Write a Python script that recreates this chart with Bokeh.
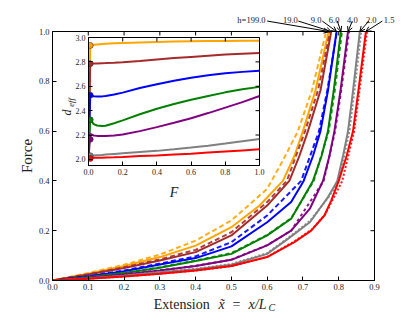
import math
from bokeh.plotting import figure
from bokeh.models import (Label, Arrow, OpenHead, FixedTicker, PrintfTickFormatter,
                          Range1d, GlobalInlineStyleSheet)
from bokeh.embed import file_html
from bokeh.resources import INLINE

SERIF = "Liberation Serif"
INK = "#222222"

# ---------------- data: main panel (extension vs force) ----------------
h_labels = ["h=199.0", "19.0", "9.0", "6.0", "4.0", "2.0", "1.5"]
colors = ["orange", "brown", "blue", "green", "purple", "gray", "red"]

# solid curves (x = extension, f = force)
x_h199 = [0, 0.1, 0.2, 0.3, 0.4, 0.5, 0.578, 0.644, 0.676, 0.700, 0.735, 0.772]
f_h199 = [0, 0.027, 0.058, 0.094, 0.14, 0.214, 0.30, 0.40, 0.50, 0.60, 0.763, 1.0]
x_h19 = [0, 0.1, 0.2, 0.3, 0.4, 0.5, 0.6, 0.662, 0.690, 0.714, 0.749, 0.779]
f_h19 = [0, 0.024, 0.05, 0.08, 0.114, 0.181, 0.301, 0.40, 0.50, 0.60, 0.763, 1.0]
x_h9 = [0, 0.1, 0.2, 0.3, 0.4, 0.5, 0.6, 0.667, 0.702, 0.728, 0.749, 0.770, 0.794]
f_h9 = [0, 0.016, 0.037, 0.064, 0.09, 0.137, 0.234, 0.315, 0.40, 0.50, 0.60, 0.763, 1.0]
x_h6 = [0, 0.1, 0.2, 0.3, 0.4, 0.5, 0.6, 0.667, 0.728, 0.752, 0.770, 0.786, 0.806]
f_h6 = [0, 0.013, 0.03, 0.051, 0.078, 0.107, 0.181, 0.248, 0.40, 0.50, 0.60, 0.763, 1.0]
x_h4 = [0, 0.1, 0.2, 0.3, 0.4, 0.5, 0.6, 0.667, 0.72, 0.756, 0.774, 0.788, 0.805, 0.826]
f_h4 = [0, 0.01, 0.024, 0.04, 0.058, 0.083, 0.141, 0.2, 0.29, 0.40, 0.50, 0.60, 0.763, 1.0]
x_h2 = [0, 0.1, 0.2, 0.3, 0.4, 0.5, 0.6, 0.658, 0.72, 0.77, 0.796, 0.812, 0.826, 0.840, 0.859]
f_h2 = [0, 0.008, 0.019, 0.033, 0.045, 0.063, 0.107, 0.167, 0.235, 0.335, 0.40, 0.50, 0.60, 0.763, 1.0]
x_h15 = [0, 0.1, 0.2, 0.3, 0.4, 0.5, 0.6, 0.676, 0.723, 0.76, 0.779, 0.80, 0.822, 0.84, 0.855, 0.876]
f_h15 = [0, 0.007, 0.016, 0.027, 0.04, 0.058, 0.094, 0.154, 0.2, 0.261, 0.321, 0.40, 0.50, 0.60, 0.763, 1.0]

# dashed (comparison) curves
xd_h199 = [0, 0.1, 0.2, 0.3, 0.4, 0.5, 0.6, 0.644, 0.686, 0.725, 0.765]
fd_h199 = [0, 0.03, 0.063, 0.104, 0.16, 0.241, 0.368, 0.482, 0.60, 0.763, 1.0]
xd_h19 = [0, 0.1, 0.2, 0.3, 0.4, 0.5, 0.6, 0.655, 0.706, 0.742, 0.776]
fd_h19 = [0, 0.025, 0.053, 0.085, 0.123, 0.194, 0.315, 0.40, 0.60, 0.763, 1.0]
xd_h9 = [0, 0.1, 0.2, 0.3, 0.4, 0.5, 0.6, 0.695, 0.745, 0.768, 0.795]
fd_h9 = [0, 0.017, 0.04, 0.068, 0.097, 0.154, 0.261, 0.40, 0.60, 0.763, 1.0]
xd_h6 = [0, 0.1, 0.2, 0.3, 0.4, 0.5, 0.6, 0.667, 0.73, 0.772, 0.789, 0.809]
fd_h6 = [0, 0.013, 0.031, 0.053, 0.08, 0.11, 0.183, 0.25, 0.40, 0.60, 0.763, 1.0]
xd_h4 = [0, 0.1, 0.2, 0.3, 0.4, 0.5, 0.6, 0.667, 0.758, 0.79, 0.807, 0.829]
fd_h4 = [0, 0.01, 0.024, 0.041, 0.059, 0.084, 0.142, 0.2, 0.40, 0.60, 0.763, 1.0]
xd_h2 = [0, 0.1, 0.2, 0.3, 0.4, 0.5, 0.6, 0.658, 0.72, 0.772, 0.80, 0.83, 0.844, 0.863]
fd_h2 = [0, 0.008, 0.02, 0.034, 0.047, 0.066, 0.11, 0.17, 0.24, 0.335, 0.40, 0.60, 0.763, 1.0]
xd_h15 = [0, 0.1, 0.2, 0.3, 0.4, 0.5, 0.6, 0.676, 0.725, 0.762, 0.81, 0.843, 0.858, 0.879]
fd_h15 = [0, 0.007, 0.016, 0.027, 0.04, 0.058, 0.095, 0.157, 0.205, 0.265, 0.40, 0.60, 0.763, 1.0]

solid_x = [x_h199, x_h19, x_h9, x_h6, x_h4, x_h2, x_h15]
solid_f = [f_h199, f_h19, f_h9, f_h6, f_h4, f_h2, f_h15]
dash_x = [xd_h199, xd_h19, xd_h9, xd_h6, xd_h4, xd_h2, xd_h15]
dash_f = [fd_h199, fd_h19, fd_h9, fd_h6, fd_h4, fd_h2, fd_h15]
dash_styles = ["5 3", "5 3", "5 3", "4 3", "3 3", "2 2", "2 2"]

main_xticks = [0.0, 0.1, 0.2, 0.3, 0.4, 0.5, 0.6, 0.7, 0.8, 0.9]
main_yticks = [0.0, 0.2, 0.4, 0.6, 0.8, 1.0]

# ---------------- data: inset (d_eff vs F) ----------------
inset_F = [0.0, 0.01, 0.03, 0.05, 0.08, 0.1, 0.15, 0.2, 0.3, 0.4, 0.5, 0.6, 0.7, 0.8, 0.9, 1.0]
d_h199 = [2.0, 2.935, 2.94, 2.943, 2.946, 2.948, 2.952, 2.955, 2.96, 2.964, 2.967, 2.969, 2.971, 2.972, 2.973, 2.974]
d_h19 = [2.0, 2.785, 2.786, 2.787, 2.789, 2.79, 2.793, 2.797, 2.808, 2.82, 2.831, 2.841, 2.851, 2.86, 2.866, 2.872]
d_h9 = [2.0, 2.527, 2.518, 2.516, 2.517, 2.52, 2.532, 2.548, 2.585, 2.617, 2.645, 2.669, 2.69, 2.706, 2.718, 2.728]
d_h6 = [2.0, 2.33, 2.29, 2.278, 2.274, 2.276, 2.297, 2.32, 2.37, 2.415, 2.455, 2.49, 2.52, 2.55, 2.575, 2.595]
d_h4 = [2.0, 2.21, 2.197, 2.193, 2.192, 2.193, 2.197, 2.205, 2.232, 2.265, 2.3, 2.338, 2.38, 2.425, 2.47, 2.52]
d_h2 = [2.0, 2.03, 2.032, 2.034, 2.037, 2.04, 2.045, 2.05, 2.06, 2.07, 2.083, 2.097, 2.112, 2.13, 2.149, 2.168]
d_h15 = [2.0, 2.012, 2.013, 2.013, 2.014, 2.015, 2.017, 2.02, 2.027, 2.033, 2.04, 2.047, 2.056, 2.065, 2.074, 2.083]
inset_d = [d_h199, d_h19, d_h9, d_h6, d_h4, d_h2, d_h15]
marker_F = [0.01] * 7
marker_d = [2.935, 2.785, 2.527, 2.325, 2.165, 2.03, 2.008]

inset_xticks = [0.0, 0.2, 0.4, 0.6, 0.8, 1.0]
inset_yticks = [2.0, 2.2, 2.4, 2.6, 2.8, 3.0]

# annotation placement (label centres / arrow tails, in main data units)
ann_label_x = [0.556, 0.665, 0.737, 0.787, 0.838, 0.891, 0.941]
ann_label_y = 1.048
ann_tail_x = [0.600, 0.687, 0.754, 0.796, 0.838, 0.884, 0.922]
ann_tail_y = 1.042

# ---------------- geometry (canvas = window, body margin removed) ----------------
W, H = 415, 312
BL, BR, BT, BB = 52, 41, 31, 32
X0, X1, Y0, Y1 = 0.0, 0.9, 0.0, 1.0


def style_axis(ax, size="8.5px"):
    ax.major_tick_in = 4
    ax.major_tick_out = 0
    ax.minor_tick_in = 0
    ax.minor_tick_out = 0
    ax.axis_line_color = "black"
    ax.major_tick_line_color = "black"
    ax.major_label_text_font = SERIF
    ax.major_label_text_color = INK
    ax.major_label_text_font_size = size
    ax.major_label_standoff = 3
    ax.formatter = PrintfTickFormatter(format="%.1f")


def inner_ticks(fig, xticks, yticks, xr, yr, size):
    # tick marks on the top and right spines (markers centred on the spine,
    # the outer half is clipped by the frame)
    fig.scatter(xticks, [yr[1]] * len(xticks), marker="dash", angle=math.pi / 2,
                size=size, line_color="black", line_width=1)
    fig.scatter([xr[1]] * len(yticks), yticks, marker="dash",
                size=size, line_color="black", line_width=1)


# ---------------- main figure ----------------
p = figure(width=W, height=H, x_range=(X0, X1), y_range=(Y0, Y1),
           output_backend="svg", toolbar_location=None,
           min_border_left=BL, min_border_right=BR, min_border_top=BT,
           min_border_bottom=BB)
p.grid.visible = False
p.outline_line_color = "black"
p.background_fill_color = "white"
p.border_fill_color = "white"
p.xaxis.ticker = FixedTicker(ticks=main_xticks)
p.yaxis.ticker = FixedTicker(ticks=main_yticks)
for ax in p.xaxis + p.yaxis:
    style_axis(ax)
p.yaxis.axis_label = "Force"
p.yaxis.axis_label_text_font = SERIF
p.yaxis.axis_label_text_font_size = "15px"
p.yaxis.axis_label_text_font_style = "normal"
p.yaxis.axis_label_text_color = INK
p.yaxis.axis_label_standoff = 1

for xs, fs, xd, fd, c, ds in zip(solid_x, solid_f, dash_x, dash_f, colors, dash_styles):
    p.line(xd, fd, color=c, line_width=2, line_dash=ds, line_alpha=0.9)
    p.line(xs, fs, color=c, line_width=2)
inner_ticks(p, main_xticks, main_yticks, (X0, X1), (Y0, Y1), 8)
p.stylesheets = [GlobalInlineStyleSheet(
    css="html, body { margin: 0 !important; padding: 0; overflow: hidden; }")]

# ---------------- inset figure ----------------
IX0, IX1, IY0, IY1 = 0.0, 1.0, 1.95, 3.0
q = figure(width=213, height=171, x_range=(IX0, IX1), y_range=(IY0, IY1),
           output_backend="svg", toolbar_location=None,
           min_border_left=32, min_border_right=10, min_border_top=6,
           min_border_bottom=34)
q.grid.visible = False
q.outline_line_color = "black"
q.background_fill_color = "white"
q.border_fill_color = None
q.xaxis.ticker = FixedTicker(ticks=inset_xticks)
q.yaxis.ticker = FixedTicker(ticks=inset_yticks)
for ax in q.xaxis + q.yaxis:
    style_axis(ax, size="8px")
q.xaxis.axis_label = "F"
q.xaxis.axis_label_text_font = SERIF
q.xaxis.axis_label_text_font_size = "14px"
q.xaxis.axis_label_text_font_style = "italic"
q.xaxis.axis_label_text_color = INK
q.xaxis.axis_label_standoff = 7

for d, c in zip(inset_d, colors):
    q.line(inset_F, d, color=c, line_width=2)
q.scatter(marker_F, marker_d, size=6, fill_color=colors, line_color="#333333",
          line_width=0.6)
inner_ticks(q, inset_xticks, inset_yticks, (IX0, IX1), (IY0, IY1), 8)
q.styles = {"position": "absolute", "left": "56px", "top": "31px", "z-index": "5"}

# ---------------- overlay for texts outside the frames ----------------
sx = (X1 - X0) / (W - BL - BR)
sy = (Y1 - Y0) / (H - BT - BB)
o = figure(width=W, height=H,
           x_range=Range1d(X0 - BL * sx, X1 + BR * sx),
           y_range=Range1d(Y0 - BB * sy, Y1 + BT * sy),
           x_axis_type=None, y_axis_type=None,
           output_backend="svg", toolbar_location=None,
           min_border=0, min_border_left=0, min_border_right=0,
           min_border_top=0, min_border_bottom=0)
o.grid.visible = False
o.outline_line_color = None
o.background_fill_color = None
o.border_fill_color = None
o.styles = {"position": "absolute", "left": "0px", "top": "0px", "z-index": "6",
            "pointer-events": "none"}

# x axis label, composed of roman and italic parts
xl_y = -0.096
for txt, lx, dy, size, style in [("Extension", 0.283, 0.0, "14px", "normal"),
                                 ("x\u0303", 0.464, 0.0, "14px", "italic"),
                                 ("=", 0.503, 0.0, "14px", "normal"),
                                 ("x/L", 0.548, 0.0, "14px", "italic"),
                                 ("C", 0.604, -0.012, "10px", "italic")]:
    o.add_layout(Label(x=lx, y=xl_y + dy, text=txt, text_font=SERIF,
                       text_font_size=size, text_font_style=style, text_color=INK,
                       text_baseline="alphabetic", text_align="left"))

# inset y label d_eff
o.add_layout(Label(x=0.0405, y=0.663, text="d", angle=math.pi / 2, text_font=SERIF,
                   text_font_size="12px", text_font_style="italic", text_color=INK,
                   text_align="left", text_baseline="alphabetic"))
o.add_layout(Label(x=0.051, y=0.698, text="eff", angle=math.pi / 2, text_font=SERIF,
                   text_font_size="8.5px", text_font_style="italic", text_color=INK,
                   text_align="left", text_baseline="alphabetic"))

# annotations with arrows pointing to the curve ends at F = 1
for lab, lx, tx, xs, fs in zip(h_labels, ann_label_x, ann_tail_x, solid_x, solid_f):
    o.add_layout(Label(x=lx, y=ann_label_y, text=lab, text_font=SERIF,
                       text_font_size="8.5px", text_color=INK,
                       text_align="center", text_baseline="alphabetic"))
    o.add_layout(Arrow(end=OpenHead(size=5, line_width=1, line_color="black"),
                       x_start=tx, y_start=ann_tail_y, x_end=xs[-1], y_end=fs[-1],
                       line_width=1, line_color="black"))

open("out.html", "w").write(file_html([p, q, o], INLINE))
